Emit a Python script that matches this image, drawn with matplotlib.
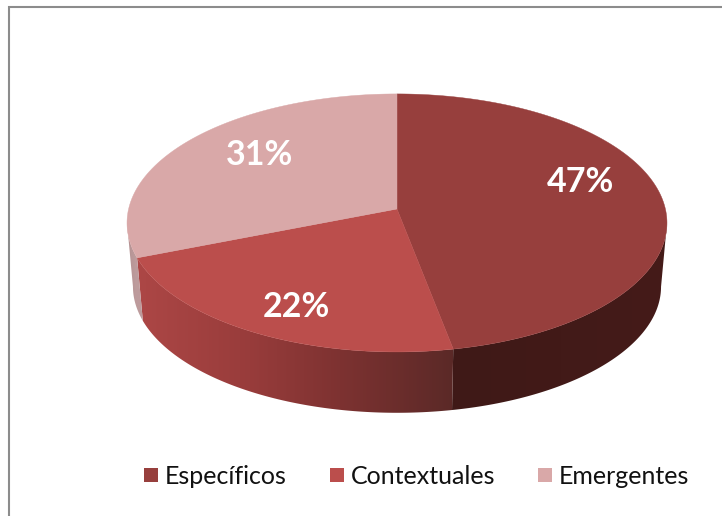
import numpy as np
import matplotlib
matplotlib.use("Agg")
import matplotlib.pyplot as plt
from matplotlib.colors import to_rgb
from matplotlib.patches import Polygon

categories = ["Específicos", "Contextuales", "Emergentes"]
values = [47, 22, 31]

top_colors = ["#973f3d", "#bb4e4c", "#d9a8a8"]
# side shading, left to right in pixels
side_stops = [
    ([455, 667], ["#3f1917", "#451b19"]),
    ([135, 250, 340, 455], ["#ad4746", "#983c3b", "#7d3231", "#5a2927"]),
    ([127, 135], ["#b39192", "#bd9b9c"]),
]

label_pos = [(580, 182), (296, 307), (260, 155)]
legend_sq = [144, 330, 538]

# projected circle, numbers in image pixels
X0, Y0, A, H, K = 397, 209, 268.4, 127.5, 0.108
SCALE_B, Y0_B = 0.978, 273


def rim(ang, x0=X0, y0=Y0, a=A, h=H):
    # ang is clockwise from the top
    u, v = np.sin(ang), np.cos(ang)
    w = 1 + K * v
    return x0 + a * u / w, y0 - h * v / w


plt.rcParams["font.family"] = ["Lato", "DejaVu Sans"]
fig = plt.figure(figsize=(7.22, 5.16), dpi=100)
ax = fig.add_axes([0, 0, 1, 1])
ax.axis("off")

# frame
ax.plot([723, 9, 9], [7, 7, 517], color="#8c8c8c", lw=1.5, solid_joinstyle="miter")

edges = np.cumsum([0] + values) / sum(values) * 2 * np.pi

# side wall: horizontal gradient clipped to the wall outline
# only the front of the rim, cos < -K is where the ellipse is widest
cols_x = np.arange(100, 700)
for i in range(len(values)):
    th = np.linspace(edges[i], edges[i + 1], 400)
    th = th[np.cos(th) < -K]
    xa, ya = rim(th)
    xb, yb = rim(th[::-1], y0=Y0_B, a=A * SCALE_B, h=H * SCALE_B)
    outline = Polygon(np.c_[np.r_[xa, xb], np.r_[ya, yb]], closed=True,
                      transform=ax.transData, fc="none", ec="none")
    ax.add_patch(outline)
    xs, cols = side_stops[i]
    rgb = np.array([to_rgb(c) for c in cols])
    grad = np.stack([np.interp(cols_x, xs, rgb[:, j]) for j in range(3)], axis=-1)[None, :, :]
    im = ax.imshow(grad, extent=(100, 700, 420, 80), aspect="auto", interpolation="bilinear")
    im.set_clip_path(outline)

# top face
for i in range(len(values)):
    th = np.linspace(edges[i], edges[i + 1], 200)
    x, y = rim(th)
    ax.fill(np.r_[X0, x], np.r_[Y0, y], color=top_colors[i], lw=0.3)

for v, (x, y) in zip(values, label_pos):
    ax.text(x, y, f"{v}%", color="white", fontsize=24.5, fontweight="bold",
            ha="center", va="center")

# legend
for name, c, x in zip(categories, top_colors, legend_sq):
    ax.fill([x, x + 14, x + 14, x], [468, 468, 482, 482], color=c, lw=0)
    ax.text(x + 21, 476, name, color="#111111", fontsize=18, ha="left", va="center")

ax.set_xlim(0, 722)
ax.set_ylim(516, 0)
fig.savefig("out.png", dpi=100)
